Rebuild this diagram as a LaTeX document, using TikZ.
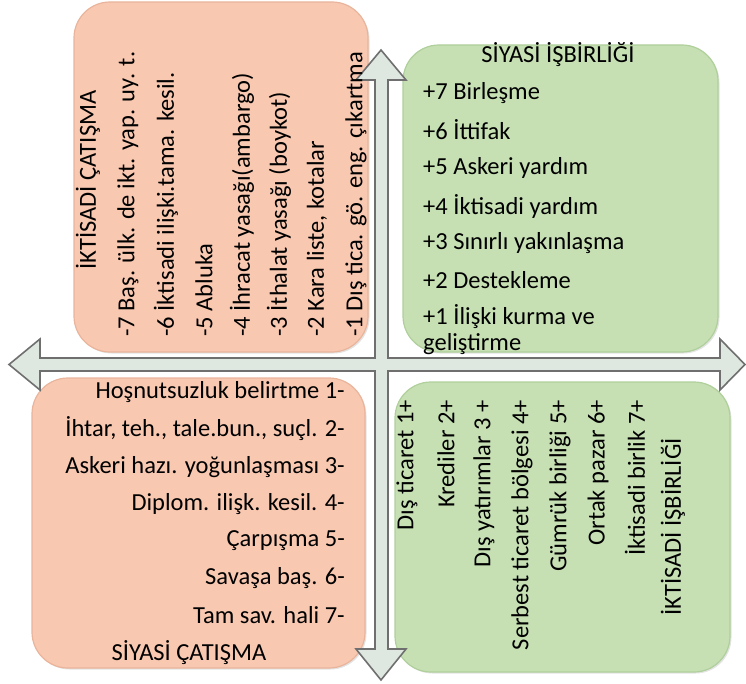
\documentclass[tikz,border=0pt]{standalone}
\usepackage{fontspec}
\setmainfont{Carlito}
\usetikzlibrary{shadows}
\definecolor{salmon}{HTML}{F9C8B1}
\definecolor{salmonedge}{HTML}{E9B49C}
\definecolor{greenbox}{HTML}{C6E0B4}
\definecolor{greenedge}{HTML}{AFCF9B}
\definecolor{crossfill}{HTML}{DFE8E0}
\definecolor{crossline}{HTML}{6F6F6F}
\tikzset{
  qbox/.style={rounded corners=36pt, line width=1.2pt,
    drop shadow={opacity=0.22, shadow xshift=1.5pt, shadow yshift=-1.5pt}},
  salmonbox/.style={qbox, fill=salmon, draw=salmonedge},
  greenbx/.style={qbox, fill=greenbox, draw=greenedge},
  txt/.style={inner sep=0pt, font=\fontsize{24.5}{28}\selectfont, text=black},
  crossstyle/.style={fill=crossfill, draw=crossline, line width=1.6pt, line join=miter}
}
\begin{document}
\begin{tikzpicture}[x=1pt, y=-1pt]
\useasboundingbox (0,0) rectangle (746,684);
% boxes
\path[salmonbox] (74,2) rectangle (368,352);
\path[greenbx] (403,45) rectangle (718,352);
\path[salmonbox] (32,378) rectangle (365,668);
\path[greenbx] (395,382) rectangle (730,672);
% cross arrow
\draw[crossstyle] (381,50) -- (406,80) -- (388,80) -- (388,358) -- (720,358) -- (720,339)
  -- (745,364.5) -- (720,390) -- (720,371) -- (388,371) -- (388,649) -- (406,649)
  -- (381,680) -- (356,649) -- (375,649) -- (375,371) -- (40,371) -- (40,390)
  -- (9,364.5) -- (40,339) -- (40,358) -- (375,358) -- (375,80) -- (356,80) -- cycle;
% top-left: İKTİSADİ ÇATIŞMA
\node[txt, rotate=90] (tlt) at (88,180) {İKTİSADİ ÇATIŞMA};
\node[txt, rotate=90, anchor=west] (tl7) at (128,337) {-7 Baş. ülk. de ikt. yap. uy. t.};
\node[txt, rotate=90, anchor=west] (tl6) at (166,337) {-6 İktisadi ilişki.tama. kesil.};
\node[txt, rotate=90, anchor=west] (tl5) at (204,337) {-5 Abluka};
\node[txt, rotate=90, anchor=west] (tl4) at (242,337) {-4 İhracat yasağı(ambargo)};
\node[txt, rotate=90, anchor=west] (tl3) at (279,337) {-3 İthalat yasağı (boykot)};
\node[txt, rotate=90, anchor=west] (tl2) at (317,337) {-2 Kara liste, kotalar};
\node[txt, rotate=90, anchor=west] (tl1) at (356,337) {-1 Dış tica. gö. eng. çıkartma};
% top-right: SİYASİ İŞBİRLİĞİ
\node[txt] (trt) at (558,55) {SİYASİ İŞBİRLİĞİ};
\node[txt, anchor=west] (tr7) at (423,93) {+7 Birleşme};
\node[txt, anchor=west] (tr6) at (423,130) {+6 İttifak};
\node[txt, anchor=west] (tr5) at (423,168) {+5 Askeri yardım};
\node[txt, anchor=west] (tr4) at (423,206) {+4 İktisadi yardım};
\node[txt, anchor=west] (tr3) at (423,243) {+3 Sınırlı yakınlaşma};
\node[txt, anchor=west] (tr2) at (423,280) {+2 Destekleme};
\node[txt, anchor=west] (tr1) at (423,317) {+1 İlişki kurma ve};
\node[txt, anchor=west] (tr1b) at (423,344) {geliştirme};
% bottom-left: SİYASİ ÇATIŞMA
\node[txt, anchor=east] (bl1) at (345,392) {Hoşnutsuzluk belirtme 1-};
\node[txt, anchor=east] (bl2) at (345,429) {İhtar, teh., tale.bun., suçl. 2-};
\node[txt, anchor=east] (bl3) at (345,467) {Askeri hazı. yoğunlaşması 3-};
\node[txt, anchor=east] (bl4) at (345,504) {Diplom. ilişk. kesil. 4-};
\node[txt, anchor=east] (bl5) at (345,541) {Çarpışma 5-};
\node[txt, anchor=east] (bl6) at (345,578) {Savaşa baş. 6-};
\node[txt, anchor=east] (bl7) at (345,615) {Tam sav. hali 7-};
\node[txt] (blt) at (189,653) {SİYASİ ÇATIŞMA};
% bottom-right: İKTİSADİ İŞBİRLİĞİ
\node[txt, rotate=90, anchor=east] (br1) at (407,400) {Dış ticaret 1+};
\node[txt, rotate=90, anchor=east] (br2) at (446,400) {Krediler 2+};
\node[txt, rotate=90, anchor=east] (br3) at (484,400) {Dış yatırımlar 3 +};
\node[txt, rotate=90, anchor=east] (br4) at (522,400) {Serbest ticaret bölgesi 4+};
\node[txt, rotate=90, anchor=east] (br5) at (560,400) {Gümrük birliği 5+};
\node[txt, rotate=90, anchor=east] (br6) at (598,400) {Ortak pazar 6+};
\node[txt, rotate=90, anchor=east] (br7) at (635,400) {İktisadi birlik 7+};
\node[txt, rotate=90] (brt) at (673,527) {İKTİSADİ İŞBİRLİĞİ};
\end{tikzpicture}
\end{document}
